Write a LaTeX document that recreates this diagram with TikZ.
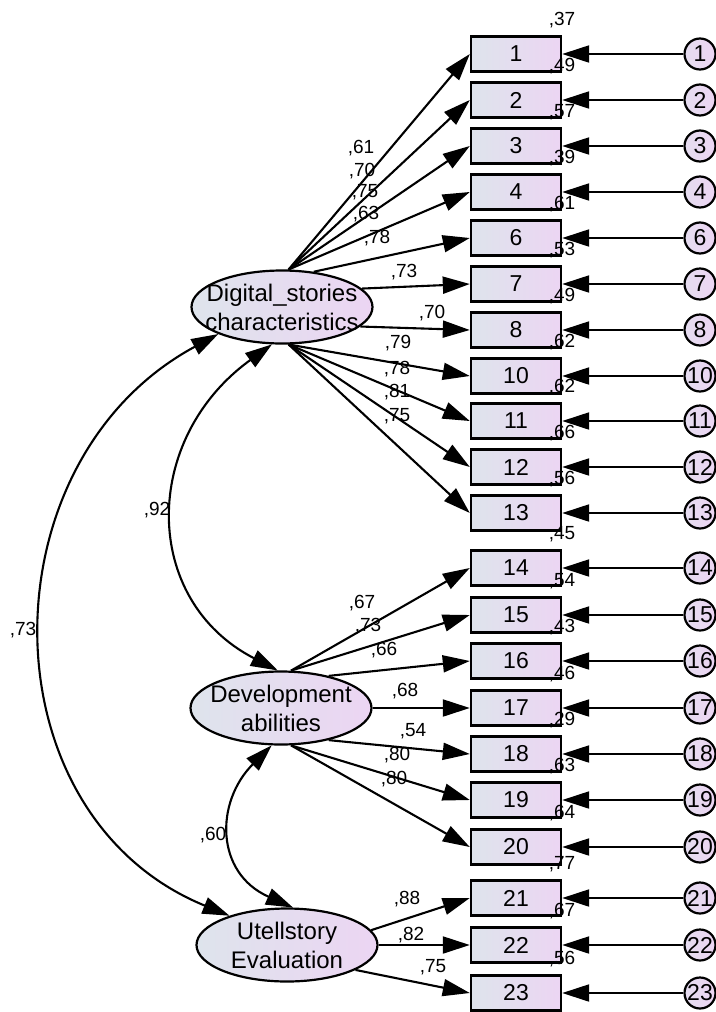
\documentclass[tikz,border=0pt]{standalone}
\usepackage{fontspec}
\setmainfont{Liberation Sans}
\usetikzlibrary{arrows.meta,shapes.geometric}
\definecolor{shadeleft}{RGB}{222,228,236}
\definecolor{shaderight}{RGB}{236,213,243}

\begin{document}
\begin{tikzpicture}[x=1pt,y=-1pt]
	\tikzset{observed/.style={draw, line width=2.4pt, left color=shadeleft, right color=shaderight, minimum width=90pt, minimum height=35pt, inner sep=0pt, font=\fontsize{23}{23}\selectfont},
		latent/.style={draw, ellipse, line width=2.2pt, left color=shadeleft, right color=shaderight, minimum width=181pt, minimum height=73pt, inner xsep=-30pt, inner ysep=-14pt, align=center, font=\fontsize{24}{29}\selectfont},
		unique/.style={draw, circle, line width=2.2pt, left color=shadeleft!50!shaderight, right color=shaderight, minimum size=31pt, inner sep=0pt, font=\fontsize{23}{23}\selectfont},
		loading/.style={line width=2.1pt, -{Triangle[length=27pt, width=17pt]}},
		cov/.style={line width=2.1pt, {Triangle[length=27pt, width=17pt]}-{Triangle[length=27pt, width=17pt]}},
		coef/.style={font=\fontsize{19}{19}\selectfont, inner sep=0pt}}
	\def \boxx {516}
	\def \errx {700}
	\useasboundingbox (0,0) rectangle (715,1012);
	
	\node[latent] (dig) at (282,307) {Digital\_stories\\characteristics};
	\node[latent] (dev) at (281,708) {Development\\abilities};
	\node[latent] (ute) at (287,945) {Utellstory\\Evaluation};
	
	% first factor
	\foreach \n/\y/\rs/\ang/\lx/\ly/\ld in {1/54/37/80/361/148/61, 2/100/49/80/362/171/70, 3/146/57/80/365/192/75, 4/192/39/80/366/214/63, 6/238/61/48/377/238/78, 7/284/53/13/404/272/73, 8/330/49/-14/432/313/70, 10/376/62/-80/398/343/79, 11/421/62/-80/397/369/78, 12/467/66/-80/397/392/81, 13/513/56/-80/397/416/75}{
		\node[observed] (x\n) at (\boxx,\y) {\n};
		\node[unique] (e\n) at (\errx,\y) {\n};
		\draw[loading] (dig.\ang) -- (x\n.west);
		\draw[loading] (e\n) -- (x\n);
		\node[coef] (l\n) at (\lx,\ly) {,\ld};
		\node[coef] (r\n) at (562,\y-34) {,\rs};
	}
	% second factor
	\foreach \n/\y/\rs/\ang/\lx/\ly/\ld in {14/568/45/75/362/603/67, 15/615/54/75/368/626/73, 16/661/43/34/384/650/66, 17/708/46/0/405/691/68, 18/754/29/-34/413/731/54, 19/800/63/-75/397/755/80, 20/847/64/-75/394/779/80}{
		\node[observed] (x\n) at (\boxx,\y) {\n};
		\node[unique] (e\n) at (\errx,\y) {\n};
		\draw[loading] (dev.\ang) -- (x\n.west);
		\draw[loading] (e\n) -- (x\n);
		\node[coef] (l\n) at (\lx,\ly) {,\ld};
		\node[coef] (r\n) at (562,\y-34) {,\rs};
	}
	% third factor
	\foreach \n/\y/\rs/\ang/\lx/\ly/\ld in {21/898/77/10/407/899/88, 22/945/67/0/411/935/82, 23/993/56/-20/433/967/75}{
		\node[observed] (x\n) at (\boxx,\y) {\n};
		\node[unique] (e\n) at (\errx,\y) {\n};
		\draw[loading] (ute.\ang) -- (x\n.west);
		\draw[loading] (e\n) -- (x\n);
		\node[coef] (l\n) at (\lx,\ly) {,\ld};
		\node[coef] (r\n) at (562,\y-34) {,\rs};
	}
	
	% covariances
	\draw[cov] (dig.203) .. controls (-17,461) and (-17,815) .. (ute.153);
	\draw[cov] (dig.255) .. controls (141,439) and (141,600) .. (dev.95);
	\draw[cov] (dev.256) .. controls (215,802) and (215,873) .. (ute.81);
	\node[coef] (c73) at (23,630) {,73};
	\node[coef] (c92) at (157,510) {,92};
	\node[coef] (c60) at (213,835) {,60};
\end{tikzpicture}
\end{document}
